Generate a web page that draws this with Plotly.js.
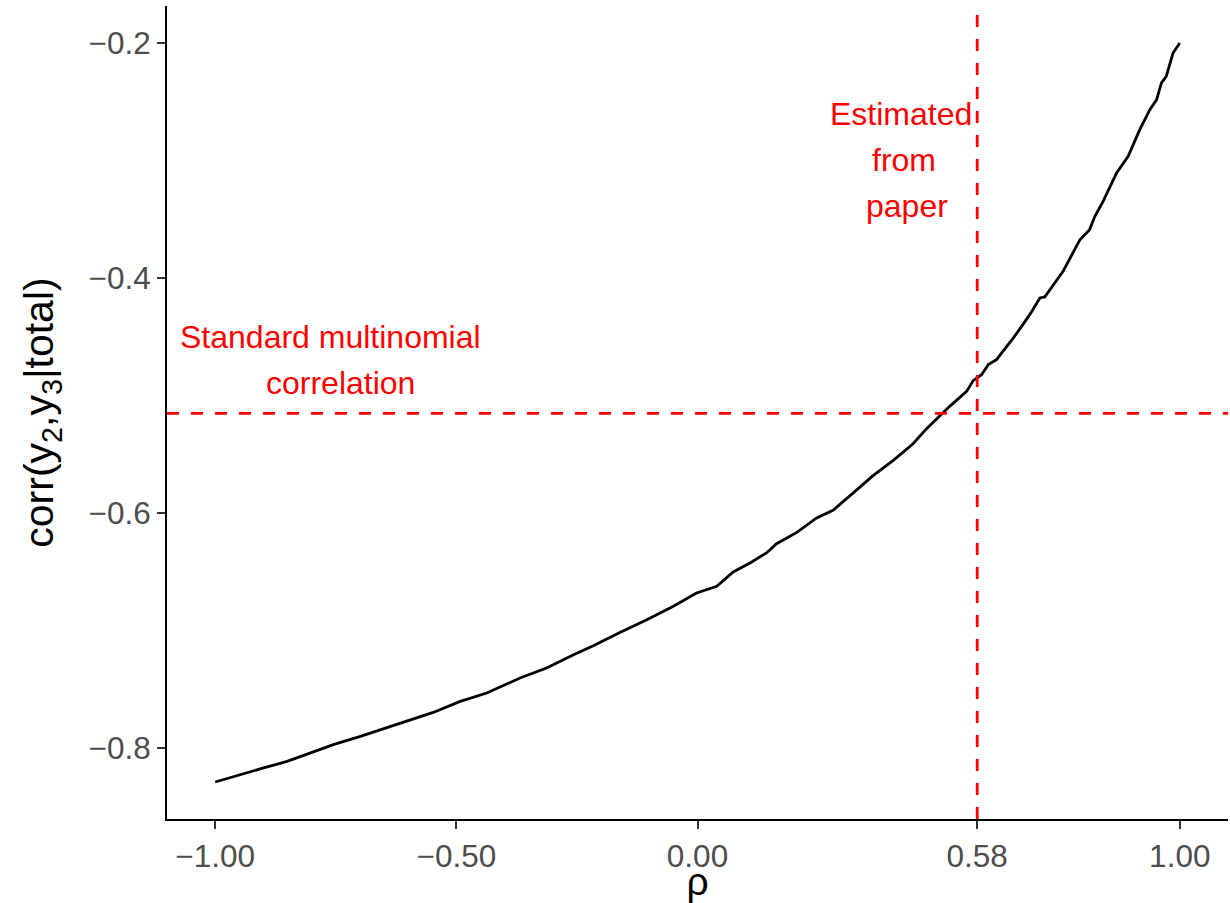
<!DOCTYPE html>
<html>
<head>
<meta charset="utf-8">
<script src="https://cdn.plot.ly/plotly-3.0.1.min.js"></script>
<style>html,body{margin:0;padding:0;background:#fff;}#chart{width:1230px;height:903px;}</style>
</head>
<body>
<div id="chart"></div>
<script>
// ---- data ----
const rho = [-1.000,-0.962,-0.907,-0.851,-0.803,-0.755,-0.699,-0.644,-0.603,-0.548,-0.492,-0.437,-0.368,-0.313,-0.257,-0.216,-0.161,-0.105,-0.050,-0.002,0.040,0.074,0.109,0.143,0.164,0.206,0.247,0.281,0.323,0.364,0.406,0.447,0.475,0.523,0.558,0.572,0.589,0.603,0.620,0.655,0.689,0.710,0.720,0.758,0.782,0.793,0.813,0.824,0.841,0.869,0.893,0.917,0.938,0.952,0.962,0.972,0.986,1.000];
const corr = [-0.8292,-0.8244,-0.8181,-0.8117,-0.8045,-0.7974,-0.7904,-0.7832,-0.7776,-0.7700,-0.7606,-0.7535,-0.7407,-0.7322,-0.7209,-0.7132,-0.7019,-0.6911,-0.6797,-0.6683,-0.6627,-0.6505,-0.6428,-0.6343,-0.6264,-0.6168,-0.6045,-0.5980,-0.5832,-0.5685,-0.5555,-0.5413,-0.5285,-0.5095,-0.4968,-0.4874,-0.4826,-0.4740,-0.4698,-0.4513,-0.4315,-0.4173,-0.4164,-0.3946,-0.3762,-0.3677,-0.3591,-0.3478,-0.3351,-0.3109,-0.2968,-0.2740,-0.2570,-0.2485,-0.2343,-0.2287,-0.2088,-0.2003];
const refRho = 0.58;      // estimated from paper
const refCorr = -0.5155;  // standard multinomial correlation
const xTickVals = [-1.00, -0.50, 0.00, 0.58, 1.00];
const xTickText = ["\u22121.00", "\u22120.50", "0.00", "0.58", "1.00"];
const yTickVals = [-0.8, -0.6, -0.4, -0.2];
const yTickText = ["\u22120.8", "\u22120.6", "\u22120.4", "\u22120.2"];
const noteLines = ["Standard multinomial", "correlation"];
const paperLines = ["Estimated", "from", "paper"];

const FONT = "Liberation Sans, Arial, Helvetica, sans-serif";
const red = "#FF0000";

const trace = {
  x: rho, y: corr, type: "scatter", mode: "lines",
  line: {color: "#000000", width: 2.8},
  hoverinfo: "skip", showlegend: false
};

const annFont = {family: FONT, size: 32, color: red};
const annotations = [
  {x: -0.760, y: -0.4502, text: noteLines[0]},
  {x: -0.740, y: -0.4894, text: noteLines[1]},
  {x: 0.421, y: -0.2609, text: paperLines[0]},
  {x: 0.428, y: -0.3000, text: paperLines[1]},
  {x: 0.435, y: -0.3391, text: paperLines[2]}
].map(a => Object.assign({xref: "x", yref: "y", showarrow: false,
  xanchor: "center", yanchor: "middle", font: annFont}, a));

const layout = {
  width: 1230, height: 903,
  paper_bgcolor: "#ffffff", plot_bgcolor: "#ffffff",
  margin: {l: 167, r: 2, t: 6, b: 84},
  showlegend: false,
  font: {family: FONT},
  xaxis: {
    range: [-1.1, 1.1], showgrid: false, zeroline: false,
    showline: true, linecolor: "#000000", linewidth: 2,
    ticks: "outside", ticklen: 8, tickwidth: 2, tickcolor: "#333333",
    tickvals: xTickVals, ticktext: xTickText,
    tickfont: {family: FONT, size: 31.5, color: "#4D4D4D"},
    title: {text: "\u03C1", font: {family: FONT, size: 39, color: "#000000"}, standoff: 6},
    automargin: false
  },
  yaxis: {
    range: [-0.8607, -0.1688], showgrid: false, zeroline: false,
    showline: true, linecolor: "#000000", linewidth: 2,
    ticks: "outside", ticklen: 8, tickwidth: 2, tickcolor: "#333333",
    tickvals: yTickVals, ticktext: yTickText,
    tickfont: {family: FONT, size: 31.5, color: "#4D4D4D"},
    title: {text: "corr(y<sub>2</sub>,y<sub>3</sub>|total)", font: {family: FONT, size: 41, color: "#000000"}, standoff: 22},
    automargin: false
  },
  shapes: [
    {type: "line", xref: "paper", x0: 0, x1: 1, yref: "y", y0: refCorr, y1: refCorr,
     line: {color: red, width: 2.8, dash: "12px,12px"}, layer: "above"},
    {type: "line", yref: "paper", y0: 0, y1: 1, xref: "x", x0: refRho, x1: refRho,
     line: {color: red, width: 2.8, dash: "12px,12px"}, layer: "above"}
  ],
  annotations: annotations
};

Plotly.newPlot("chart", [trace], layout, {displayModeBar: false, staticPlot: true});
</script>
</body>
</html>
